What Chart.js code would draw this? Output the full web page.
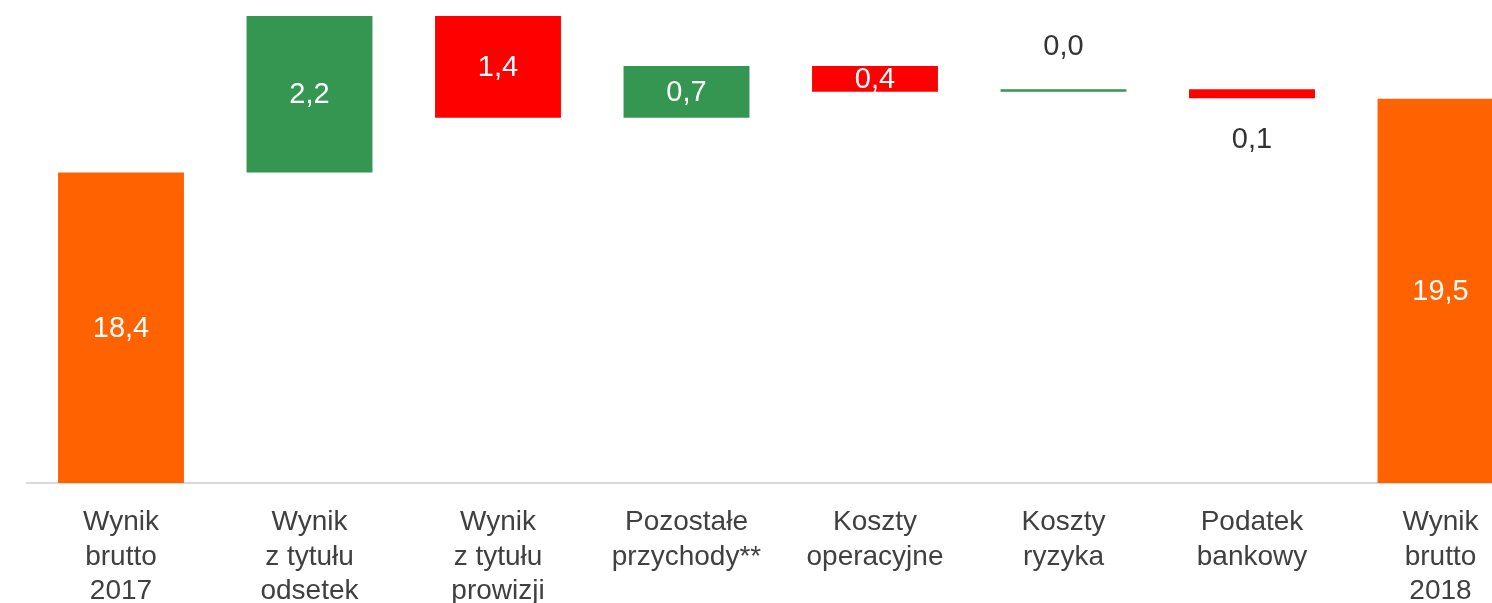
<!DOCTYPE html>
<html>
<head>
<meta charset="utf-8">
<script src="https://cdn.jsdelivr.net/npm/chart.js@4/dist/chart.umd.min.js"></script>
<style>
  html, body { margin: 0; padding: 0; background: #ffffff; overflow: hidden; }
  #wrap { position: absolute; left: 0; top: 0; width: 1540px; height: 603px; }
</style>
</head>
<body>
<div id="wrap"><canvas id="c" width="1540" height="603"></canvas></div>
<script>
// ---- data ----
const categories = [
  ["Wynik", "brutto", "2017"],
  ["Wynik", "z tytułu", "odsetek"],
  ["Wynik", "z tytułu", "prowizji"],
  ["Pozostałe", "przychody**"],
  ["Koszty", "operacyjne"],
  ["Koszty", "ryzyka"],
  ["Podatek", "bankowy"],
  ["Wynik", "brutto", "2018"]
];
const valueLabels = ["18,4", "2,2", "1,4", "0,7", "0,4", "0,0", "0,1", "19,5"];
const barStart = [0, 18.37, 20.575, 19.143, 19.871, 19.509, 19.543, 0];
const barEnd   = [18.37, 20.575, 19.143, 19.871, 19.509, 19.543, 19.416, 19.41];
const kinds    = ["total", "up", "down", "up", "down", "up", "down", "total"];

// ---- styles ----
const kindColors = { total: "#FF6200", up: "#349651", down: "#FF0000" };
const FONT = '"Liberation Sans", Arial, sans-serif';

const valueLabelPlugin = {
  id: "valueLabels",
  afterDatasetsDraw(chart) {
    const { ctx, chartArea } = chart;
    const meta = chart.getDatasetMeta(0);
    ctx.save();
    ctx.font = "29px " + FONT;
    ctx.textAlign = "center";
    ctx.textBaseline = "middle";
    meta.data.forEach((bar, i) => {
      const p = bar.getProps(["x", "y", "base"], true);
      const top = Math.max(Math.min(p.y, p.base), chartArea.top);
      const bottom = Math.min(Math.max(p.y, p.base), chartArea.bottom);
      const h = bottom - top;
      let y, color;
      if (h >= 20) { y = (top + bottom) / 2 + 1; color = "#ffffff"; }
      else if (kinds[i] === "down") { y = bottom + 42; color = "#333333"; }
      else { y = top - 42; color = "#333333"; }
      ctx.fillStyle = color;
      ctx.fillText(valueLabels[i], p.x, y);
    });
    ctx.restore();
  }
};

new Chart(document.getElementById("c"), {
  type: "bar",
  data: {
    labels: categories,
    datasets: [{
      data: barStart.map((s, i) => [s, barEnd[i]]),
      backgroundColor: kinds.map(k => kindColors[k]),
      borderWidth: 0,
      borderSkipped: false,
      categoryPercentage: 1.0,
      barPercentage: 0.668
    }]
  },
  options: {
    responsive: false,
    animation: false,
    devicePixelRatio: 1,
    layout: { padding: { left: 26.75, right: 5.25, top: 0, bottom: 0 } },
    plugins: { legend: { display: false }, tooltip: { enabled: false } },
    scales: {
      x: {
        grid: { display: false, drawTicks: false },
        border: { display: true, color: "#d9d9d9", width: 2 },
        ticks: {
          color: "#404040",
          font: { family: FONT, size: 28, lineHeight: 1.232 },
          padding: 22.5,
          maxRotation: 0,
          autoSkip: false
        },
        afterFit(scale) { scale.height = 120; }
      },
      y: {
        display: false,
        min: 14,
        max: 20.8
      }
    }
  },
  plugins: [valueLabelPlugin]
});
</script>
</body>
</html>
